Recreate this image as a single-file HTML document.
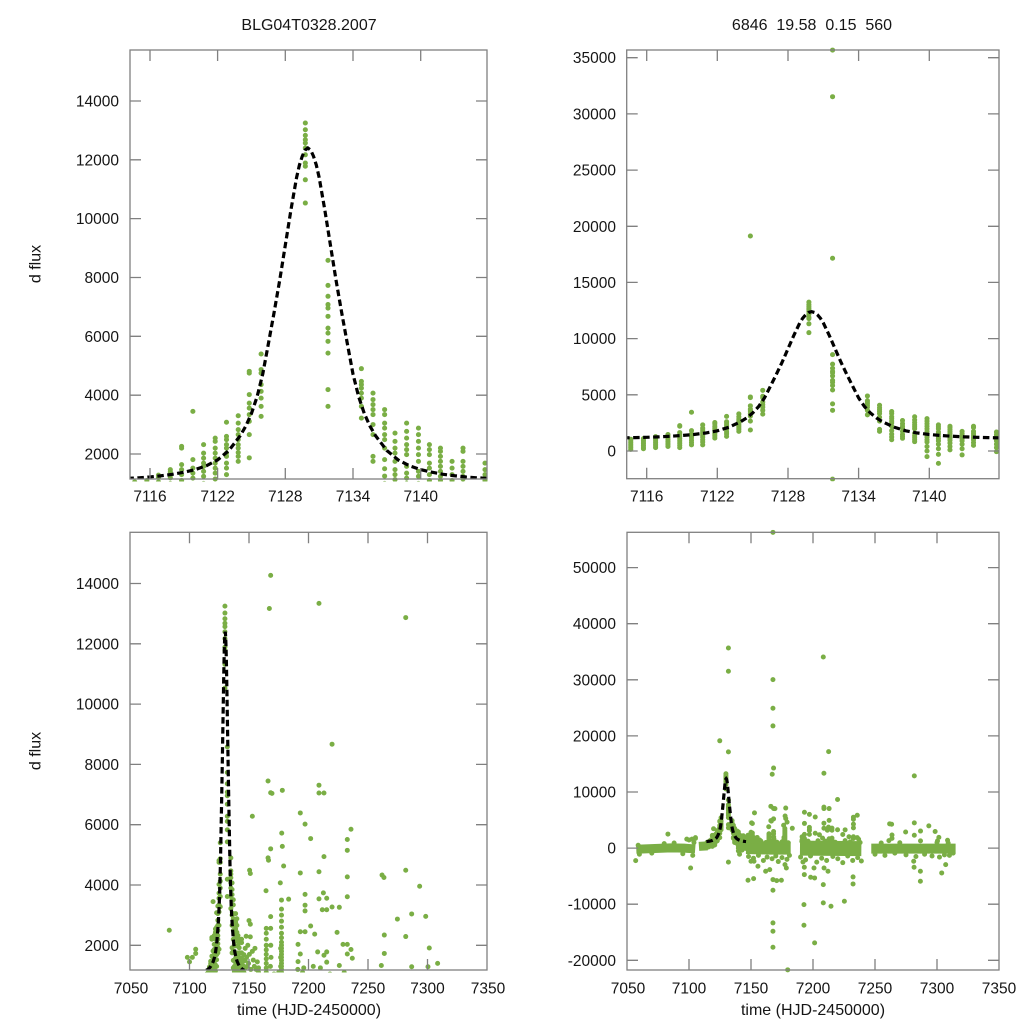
<!DOCTYPE html>
<html>
<head>
<meta charset="utf-8">
<style>
html,body{margin:0;padding:0;background:#fff;width:1024px;height:1024px;overflow:hidden;}
svg{display:block;}
text{font-family:"Liberation Sans",Arial,sans-serif;fill:#151515;}
.tk{font-size:15.5px;}
.ttl{font-size:16px;}
.dots{fill:none;stroke:#7aae45;stroke-width:5;stroke-linecap:round;}
.band{fill:none;stroke:#7aae45;stroke-linecap:butt;}
.crv{fill:none;stroke:#000;stroke-width:3.2;stroke-dasharray:6.5 3.5;}
.fr{fill:none;stroke:#808080;stroke-width:1.3;}
</style>
</head>
<body>
<svg width="1024" height="1024" viewBox="0 0 1024 1024" xmlns="http://www.w3.org/2000/svg">
<defs>
<clipPath id="cTL"><rect x="130" y="50" width="357" height="429"/></clipPath>
<clipPath id="cTR"><rect x="626.7" y="50" width="372.3" height="428.7"/></clipPath>
<clipPath id="cBL"><rect x="130" y="532.3" width="357" height="437.7"/></clipPath>
<clipPath id="cBR"><rect x="627" y="532.3" width="372" height="437.7"/></clipPath>
<clipPath id="dTL"><rect x="127.5" y="47.5" width="362" height="434"/></clipPath>
<clipPath id="dTR"><rect x="624.2" y="47.5" width="377.3" height="433.7"/></clipPath>
<clipPath id="dBL"><rect x="127.5" y="529.8" width="362" height="442.7"/></clipPath>
<clipPath id="dBR"><rect x="624.5" y="529.8" width="377" height="442.7"/></clipPath>
<path id="EV" class="dots" vector-effect="non-scaling-stroke" d="
M114.64 .15h.01M114.64 .3h.01M114.64 .45h.01M114.64 .6h.01M114.64 .75h.01M114.64 .9h.01M114.64 1.05h.01
M115.72 .2h.01M115.72 .35h.01M115.72 .5h.01M115.72 .65h.01M115.72 .8h.01M115.72 .95h.01M115.72 1.1h.01
M116.75 .3h.01M116.75 .45h.01M116.75 .6h.01M116.75 .75h.01M116.75 .9h.01M116.75 1.05h.01M116.75 1.2h.01M116.75 1.28h.01
M117.8 .4h.01M117.8 .55h.01M117.8 .7h.01M117.8 .85h.01M117.8 1h.01M117.8 1.19h.01M117.8 1.28h.01M117.8 1.39h.01M117.8 1.47h.01
M118.8 .3h.01M118.8 .5h.01M118.8 .7h.01M118.8 .9h.01M118.8 1.1h.01M118.8 1.3h.01M118.8 1.47h.01M118.8 1.64h.01M118.8 2.2h.01M118.8 2.26h.01
M119.8 .55h.01M119.8 .75h.01M119.8 .95h.01M119.8 1.18h.01M119.8 1.35h.01M119.8 1.52h.01M119.8 1.81h.01M119.8 3.45h.01
M120.75 .55h.01M120.75 .8h.01M120.75 1h.01M120.75 1.24h.01M120.75 1.41h.01M120.75 1.58h.01M120.75 1.69h.01M120.75 1.86h.01M120.75 2.03h.01M120.75 2.32h.01
M121.78 1.15h.01M121.78 1.35h.01M121.78 1.52h.01M121.78 1.69h.01M121.78 1.86h.01M121.78 2.03h.01M121.78 2.2h.01M121.78 2.43h.01M121.78 2.54h.01
M122.78 1.3h.01M122.78 1.52h.01M122.78 1.69h.01M122.78 1.92h.01M122.78 2.03h.01M122.78 2.2h.01M122.78 2.32h.01M122.78 2.49h.01M122.78 2.6h.01M122.78 3.08h.01
M123.82 1.75h.01M123.82 1.92h.01M123.82 2.05h.01M123.82 2.2h.01M123.82 2.32h.01M123.82 2.49h.01M123.82 2.66h.01M123.82 2.83h.01M123.82 3.05h.01M123.82 3.3h.01
M124.8 1.87h.01M124.8 2.66h.01M124.8 3.11h.01M124.8 3.34h.01M124.8 3.56h.01M124.8 3.73h.01M124.8 4.02h.01M124.8 4.75h.01M124.8 4.81h.01M124.8 19.13h.01
M125.85 3.28h.01M125.85 3.62h.01M125.85 3.9h.01M125.85 4.13h.01M125.85 4.36h.01M125.85 4.75h.01M125.85 4.87h.01M125.85 5.4h.01
M129.77 10.53h.01M129.77 11.32h.01M129.77 11.78h.01M129.77 11.89h.01M129.77 12.17h.01M129.77 12.4h.01M129.77 12.57h.01M129.77 12.68h.01M129.77 12.83h.01M129.77 13.02h.01M129.77 13.25h.01
M131.78 -2.5h.01M131.78 3.62h.01M131.78 4.19h.01M131.78 5.43h.01M131.78 5.83h.01M131.78 6.11h.01M131.78 6.28h.01M131.78 6.68h.01M131.78 6.96h.01M131.78 7.08h.01M131.78 7.36h.01M131.78 7.73h.01M131.78 8.58h.01M131.78 17.15h.01M131.78 31.53h.01M131.78 35.68h.01
M134.74 3.22h.01M134.74 3.62h.01M134.74 3.9h.01M134.74 4.07h.01M134.74 4.24h.01M134.74 4.36h.01M134.74 4.47h.01M134.74 4.9h.01
M135.77 1.75h.01M135.77 1.92h.01M135.77 2.66h.01M135.77 3h.01M135.77 3.34h.01M135.77 3.51h.01M135.77 3.68h.01M135.77 3.85h.01M135.77 4.07h.01
M136.8 1h.01M136.8 1.25h.01M136.8 1.5h.01M136.8 1.81h.01M136.8 2.2h.01M136.8 2.49h.01M136.8 2.66h.01M136.8 2.88h.01M136.8 3.05h.01M136.8 3.34h.01M136.8 3.51h.01
M137.72 1.13h.01M137.72 1.3h.01M137.72 1.47h.01M137.72 1.75h.01M137.72 2.03h.01M137.72 2.2h.01M137.72 2.43h.01M137.72 2.71h.01
M138.75 .83h.01M138.75 1h.01M138.75 1.18h.01M138.75 1.35h.01M138.75 1.58h.01M138.75 1.98h.01M138.75 2.15h.01M138.75 2.32h.01M138.75 2.54h.01M138.75 2.77h.01M138.75 3.05h.01
M139.8 -.5h.01M139.8 0h.01M139.8 .4h.01M139.8 .8h.01M139.8 1h.01M139.8 1.24h.01M139.8 1.41h.01M139.8 1.75h.01M139.8 1.98h.01M139.8 2.2h.01M139.8 2.43h.01M139.8 2.66h.01M139.8 2.88h.01
M140.77 -1.1h.01M140.77 -.3h.01M140.77 .2h.01M140.77 .6h.01M140.77 .9h.01M140.77 1.1h.01M140.77 1.3h.01M140.77 1.52h.01M140.77 1.69h.01M140.77 1.98h.01M140.77 2.15h.01M140.77 2.32h.01
M141.75 .1h.01M141.75 .4h.01M141.75 .7h.01M141.75 .95h.01M141.75 1.1h.01M141.75 1.24h.01M141.75 1.41h.01M141.75 1.58h.01M141.75 1.75h.01M141.75 1.92h.01M141.75 2.09h.01M141.75 2.2h.01
M142.78 -.35h.01M142.78 .2h.01M142.78 .6h.01M142.78 .9h.01M142.78 1.1h.01M142.78 1.3h.01M142.78 1.52h.01M142.78 1.75h.01
M143.75 .5h.01M143.75 .75h.01M143.75 1h.01M143.75 1.15h.01M143.75 1.24h.01M143.75 1.41h.01M143.75 1.58h.01M143.75 1.75h.01M143.75 2.09h.01M143.75 2.2h.01
M145.7 -.06h.01M145.7 .3h.01M145.7 .6h.01M145.7 .9h.01M145.7 1.1h.01M145.7 1.3h.01M145.7 1.47h.01M145.7 1.69h.01"/>
<path id="SE" class="dots" vector-effect="non-scaling-stroke" d="
M57 -2.23h.01M83 2.5h.01M98.2 1.6h.01M100 1.45h.01M102.4 1.6h.01M105.2 1.87h.01M105.2 1.73h.01M101.3 -3.54h.01
M146.8 1.9h.01M146.8 1.5h.01M147 1.25h.01M147.6 2.3h.01M148 1.6h.01M148.5 1.3h.01M149 2h.01M149.6 1.4h.01M150 2.82h.01M150.5 4.49h.01M150.3 1.7h.01M151.1 2.7h.01M151.1 2.28h.01M151.1 4.38h.01M151.5 1.2h.01M152.8 6.28h.01M153.6 1.51h.01M152.8 1.8h.01M154.5 1.3h.01M155 1.9h.01M156 1.2h.01M157 1.45h.01M158 1.25h.01
M147.6 -5.73h.01M150 -2.35h.01M152.4 -2.35h.01M152.1 -5.44h.01M155.6 -3.24h.01M161.8 -4.13h.01M165.1 -3.83h.01
M166 7.45h.01M164.5 1.1h.01M164.5 1.25h.01M164.5 1.4h.01M164.5 1.55h.01M164.5 1.7h.01M164.5 1.85h.01M164.5 2h.01M164.5 2.2h.01M164.5 2.4h.01M164.5 2.56h.01M164.3 3.81h.01M166 4.9h.01M166.4 4.82h.01
M167.1 13.17h.01M168.2 14.27h.01M167.7 56.3h.01M167.7 30.03h.01M167.7 24.93h.01M167.7 21.78h.01M167.7 -5.61h.01M167.7 -7.52h.01M167.7 -13.34h.01M167.7 -14.82h.01M167.7 -17.68h.01
M168.2 7.06h.01M169.3 7.04h.01M168.2 5.2h.01M168.2 2.95h.01M168.2 2.56h.01M168 1.3h.01M168.5 1.6h.01M168.3 2h.01M170.7 -5.79h.01M174.5 -5.73h.01
M177.3 1.1h.01M177.3 1.2h.01M177.3 1.3h.01M177.3 1.4h.01M177.3 1.5h.01M177.3 1.6h.01M177.3 1.7h.01M177.3 1.8h.01M177.3 1.9h.01M177.3 2h.01M177.3 2.1h.01M177.3 2.25h.01M177.3 2.4h.01M177.3 2.6h.01M177.3 2.8h.01M177.3 3h.01M177.3 3.2h.01M177.3 3.5h.01
M176.6 1.3h.01M176.6 1.6h.01M176.6 1.9h.01M176.3 4.07h.01M177.5 5.72h.01M178 5.28h.01M178 7.14h.01M179.1 4.63h.01M177.4 -2.94h.01M178.5 -3.54h.01M179.6 -21.7h.01M183.3 3.53h.01
M191.2 2.03h.01M191.2 1.46h.01M193.1 1.71h.01M193.1 2.45h.01M193.1 4.4h.01M193.1 6.39h.01M197.1 6.02h.01M197.1 3.69h.01M197.1 3.33h.01M197.1 3.14h.01M197.1 2.45h.01M201.8 2.64h.01M201.8 5.54h.01M205.2 2.37h.01M207.7 1.78h.01
M208.8 13.34h.01M208.8 7.31h.01M208.8 7.05h.01M208.8 4.44h.01M208.8 3.54h.01M211.6 3.18h.01M212.5 3.74h.01M213 7.05h.01M213 4.94h.01M213 1.67h.01M215.3 3.56h.01M215.3 3.18h.01M215.3 1.78h.01M215.3 1.44h.01
M219.8 8.67h.01M219.8 3.27h.01M224 2.43h.01M225.9 3.26h.01M225.9 1.33h.01M229 2.03h.01M232.6 5.51h.01M232.6 5.15h.01M232.6 4.27h.01M232.6 3.61h.01M232.6 2.03h.01M232.6 1.71h.01M235.7 5.85h.01M235.7 1.86h.01M236.8 1.57h.01
M208.3 34.07h.01M212.6 17.2h.01M191 1.2h.01M196 1.25h.01M204 1.3h.01M210 1.25h.01
M191.9 -2.47h.01M193 -3.42h.01M193 -4.72h.01M198.1 -5.2h.01M201.3 -5.32h.01M200.8 -3.54h.01M208.9 -3.54h.01M212.1 -4.13h.01M208.3 -6.51h.01M208.3 -9.77h.01M214.5 -10.37h.01M225.3 -9.48h.01M232.3 -5.14h.01M232.3 -6.39h.01M192.7 -10.07h.01M192.7 -13.76h.01M201.3 -16.9h.01
M261.2 1.33h.01M261.8 4.33h.01M263.4 4.25h.01M263.7 2.34h.01M263.7 1.73h.01M274.7 2.87h.01M281.7 12.87h.01M281.7 4.49h.01M281.7 2.29h.01M286.7 3.04h.01M286.7 1.29h.01M293.4 3.96h.01M298.5 2.96h.01M300.4 1.29h.01M301.5 1.91h.01M308.5 1.4h.01
M281.2 -2.35h.01M281.5 -3.42h.01M286.6 -4.13h.01M286.6 -5.91h.01M303.8 -4.43h.01M307 -2.94h.01
M148 -1.5h.01M152 -1.8h.01M156 -1.3h.01M160 -2.2h.01M163 -1.6h.01M167 -1.9h.01M170 -1.4h.01M172 -2.4h.01M175 -1.7h.01M179 -2h.01M181 -1.3h.01M158 1.1h.01M162 1h.01M171 1.05h.01M175 1.1h.01M180 .95h.01
M190 -1.6h.01M194 -2.1h.01M198 -1.4h.01M203 -2.5h.01M207 -1.8h.01M211 -2.2h.01M216 -1.5h.01M220 -1.9h.01M224 -2.6h.01M228 -1.4h.01M232 -2.2h.01M236 -1.7h.01M239 -2.3h.01M195 1.1h.01M205 1h.01M218 1.05h.01M230 1.1h.01M238 1h.01
M250 -1.1h.01M258 -1.3h.01M266 -.9h.01M275 -1.2h.01M283 -1.5h.01M290 -1.1h.01M296 -1.4h.01M302 -1.6h.01M306 -1.2h.01M310 -1.3h.01M313 -.9h.01M255 .9h.01M270 .95h.01M300 1h.01M309 .9h.01
M60 -1.1h.01M70 -.9h.01M80 .8h.01M88 .9h.01M95 -1h.01M103 -1.3h.01M104 1h.01M59 .5h.01"/>
<path id="BD" class="dots" vector-effect="non-scaling-stroke" d="
M114.64 1.05h.01M115.72 1.1h.01
M116.75 1.05h.01M116.75 1.2h.01M116.75 1.28h.01
M117.8 1h.01M117.8 1.19h.01M117.8 1.28h.01M117.8 1.39h.01M117.8 1.47h.01
M118.8 1.1h.01M118.8 1.3h.01M118.8 1.47h.01M118.8 1.64h.01M118.8 2.2h.01M118.8 2.26h.01
M119.8 1.18h.01M119.8 1.35h.01M119.8 1.52h.01M119.8 1.81h.01M119.8 3.45h.01
M120.75 1h.01M120.75 1.24h.01M120.75 1.41h.01M120.75 1.58h.01M120.75 1.69h.01M120.75 1.86h.01M120.75 2.03h.01M120.75 2.32h.01
M121.78 1.15h.01M121.78 1.35h.01M121.78 1.52h.01M121.78 1.69h.01M121.78 1.86h.01M121.78 2.03h.01M121.78 2.2h.01M121.78 2.43h.01M121.78 2.54h.01
M122.78 1.3h.01M122.78 1.52h.01M122.78 1.69h.01M122.78 1.92h.01M122.78 2.03h.01M122.78 2.2h.01M122.78 2.32h.01M122.78 2.49h.01M122.78 2.6h.01M122.78 3.08h.01
M123.82 1.75h.01M123.82 1.92h.01M123.82 2.05h.01M123.82 2.2h.01M123.82 2.32h.01M123.82 2.49h.01M123.82 2.66h.01M123.82 2.83h.01M123.82 3.05h.01M123.82 3.3h.01
M124.8 1.87h.01M124.8 2.66h.01M124.8 3.11h.01M124.8 3.34h.01M124.8 3.56h.01M124.8 3.73h.01M124.8 4.02h.01M124.8 4.75h.01M124.8 4.81h.01
M125.85 3.28h.01M125.85 3.62h.01M125.85 3.9h.01M125.85 4.13h.01M125.85 4.36h.01M125.85 4.75h.01M125.85 4.87h.01M125.85 5.4h.01
M129.77 10.53h.01M129.77 11.32h.01M129.77 11.78h.01M129.77 11.89h.01M129.77 12.17h.01M129.77 12.4h.01M129.77 12.57h.01M129.77 12.68h.01M129.77 12.83h.01M129.77 13.02h.01M129.77 13.25h.01
M131.78 3.62h.01M131.78 4.19h.01M131.78 5.43h.01M131.78 5.83h.01M131.78 6.11h.01M131.78 6.28h.01M131.78 6.68h.01M131.78 6.96h.01M131.78 7.08h.01M131.78 7.36h.01M131.78 7.73h.01M131.78 8.58h.01
M134.74 3.22h.01M134.74 3.62h.01M134.74 3.9h.01M134.74 4.07h.01M134.74 4.24h.01M134.74 4.36h.01M134.74 4.47h.01M134.74 4.9h.01
M135.77 1.75h.01M135.77 1.92h.01M135.77 2.66h.01M135.77 3h.01M135.77 3.34h.01M135.77 3.51h.01M135.77 3.68h.01M135.77 3.85h.01M135.77 4.07h.01
M136.8 1h.01M136.8 1.25h.01M136.8 1.5h.01M136.8 1.81h.01M136.8 2.2h.01M136.8 2.49h.01M136.8 2.66h.01M136.8 2.88h.01M136.8 3.05h.01M136.8 3.34h.01M136.8 3.51h.01
M137.72 1.13h.01M137.72 1.3h.01M137.72 1.47h.01M137.72 1.75h.01M137.72 2.03h.01M137.72 2.2h.01M137.72 2.43h.01M137.72 2.71h.01
M138.75 1h.01M138.75 1.18h.01M138.75 1.35h.01M138.75 1.58h.01M138.75 1.98h.01M138.75 2.15h.01M138.75 2.32h.01M138.75 2.54h.01M138.75 2.77h.01M138.75 3.05h.01
M139.8 1h.01M139.8 1.24h.01M139.8 1.41h.01M139.8 1.75h.01M139.8 1.98h.01M139.8 2.2h.01M139.8 2.43h.01M139.8 2.66h.01M139.8 2.88h.01
M140.77 1.1h.01M140.77 1.3h.01M140.77 1.52h.01M140.77 1.69h.01M140.77 1.98h.01M140.77 2.15h.01M140.77 2.32h.01
M141.75 1.1h.01M141.75 1.24h.01M141.75 1.41h.01M141.75 1.58h.01M141.75 1.75h.01M141.75 1.92h.01M141.75 2.09h.01M141.75 2.2h.01
M142.78 1.1h.01M142.78 1.3h.01M142.78 1.52h.01M142.78 1.75h.01
M143.75 1h.01M143.75 1.15h.01M143.75 1.24h.01M143.75 1.41h.01M143.75 1.58h.01M143.75 1.75h.01M143.75 2.09h.01M143.75 2.2h.01
M145.7 1.1h.01M145.7 1.3h.01M145.7 1.47h.01M145.7 1.69h.01
M83 2.5h.01M98.2 1.6h.01M100 1.45h.01M102.4 1.6h.01M105.2 1.87h.01M105.2 1.73h.01
M146.8 1.9h.01M146.8 1.5h.01M147 1.25h.01M147.6 2.3h.01M148 1.6h.01M148.5 1.3h.01M149 2h.01M149.6 1.4h.01M150 2.82h.01M150.5 4.49h.01M150.3 1.7h.01M151.1 2.7h.01M151.1 2.28h.01M151.1 4.38h.01M151.5 1.2h.01M152.8 6.28h.01M153.6 1.51h.01M152.8 1.8h.01M154.5 1.3h.01M155 1.9h.01M156 1.2h.01M157 1.45h.01M158 1.25h.01
M166 7.45h.01M164.5 1.1h.01M164.5 1.25h.01M164.5 1.4h.01M164.5 1.55h.01M164.5 1.7h.01M164.5 1.85h.01M164.5 2h.01M164.5 2.2h.01M164.5 2.4h.01M164.5 2.56h.01M164.3 3.81h.01M166 4.9h.01M166.4 4.82h.01
M167.1 13.17h.01M168.2 14.27h.01
M168.2 7.06h.01M169.3 7.04h.01M168.2 5.2h.01M168.2 2.95h.01M168.2 2.56h.01M168 1.3h.01M168.5 1.6h.01M168.3 2h.01
M177.3 1.1h.01M177.3 1.2h.01M177.3 1.3h.01M177.3 1.4h.01M177.3 1.5h.01M177.3 1.6h.01M177.3 1.7h.01M177.3 1.8h.01M177.3 1.9h.01M177.3 2h.01M177.3 2.1h.01M177.3 2.25h.01M177.3 2.4h.01M177.3 2.6h.01M177.3 2.8h.01M177.3 3h.01M177.3 3.2h.01M177.3 3.5h.01
M176.6 1.3h.01M176.6 1.6h.01M176.6 1.9h.01M176.3 4.07h.01M177.5 5.72h.01M178 5.28h.01M178 7.14h.01M179.1 4.63h.01M183.3 3.53h.01
M191.2 2.03h.01M191.2 1.46h.01M193.1 1.71h.01M193.1 2.45h.01M193.1 4.4h.01M193.1 6.39h.01M197.1 6.02h.01M197.1 3.69h.01M197.1 3.33h.01M197.1 3.14h.01M197.1 2.45h.01M201.8 2.64h.01M201.8 5.54h.01M205.2 2.37h.01M207.7 1.78h.01
M208.8 13.34h.01M208.8 7.31h.01M208.8 7.05h.01M208.8 4.44h.01M208.8 3.54h.01M211.6 3.18h.01M212.5 3.74h.01M213 7.05h.01M213 4.94h.01M213 1.67h.01M215.3 3.56h.01M215.3 3.18h.01M215.3 1.78h.01M215.3 1.44h.01
M219.8 8.67h.01M219.8 3.27h.01M224 2.43h.01M225.9 3.26h.01M225.9 1.33h.01M229 2.03h.01M232.6 5.51h.01M232.6 5.15h.01M232.6 4.27h.01M232.6 3.61h.01M232.6 2.03h.01M232.6 1.71h.01M235.7 5.85h.01M235.7 1.86h.01M236.8 1.57h.01
M191 1.2h.01M196 1.25h.01M204 1.3h.01M210 1.25h.01
M261.2 1.33h.01M261.8 4.33h.01M263.4 4.25h.01M263.7 2.34h.01M263.7 1.73h.01M274.7 2.87h.01M281.7 12.87h.01M281.7 4.49h.01M281.7 2.29h.01M286.7 3.04h.01M286.7 1.29h.01M293.4 3.96h.01M298.5 2.96h.01M300.4 1.29h.01M301.5 1.91h.01M308.5 1.4h.01
M158 1.1h.01M162 1h.01M171 1.05h.01M175 1.1h.01M195 1.1h.01M205 1h.01M218 1.05h.01M230 1.1h.01M238 1h.01M300 1h.01M104 1h.01"/>
<path id="CV" class="crv" vector-effect="non-scaling-stroke" d="M114 1.17L115 1.19L116 1.22L117 1.26L118 1.31L119 1.38L120 1.47L121 1.6L122 1.8L123 2.12L124 2.62L124.5 2.95L125 3.38L125.5 3.95L126 4.72L126.5 5.75L127 6.8L127.5 7.9L128 9.1L128.5 10.3L129 11.4L129.25 11.82L129.5 12.12L129.75 12.33L130 12.4L130.25 12.33L130.5 12.12L130.75 11.82L131 11.4L131.5 10.3L132 9.1L132.5 7.9L133 6.8L133.5 5.75L134 4.72L134.5 3.95L135 3.38L135.5 2.95L136 2.62L137 2.12L138 1.8L139 1.6L140 1.47L141 1.38L142 1.31L143 1.26L144 1.22L145 1.19L146 1.17"/>
</defs>

<!-- Top-left data -->
<g clip-path="url(#dTL)">
<g transform="matrix(11.279 0 0 -29.42 -1158.4 512.84)">
<use href="#EV"/>
</g>
</g>
<g clip-path="url(#cTL)">
<g transform="matrix(11.279 0 0 -29.42 -1158.4 512.84)">
<use href="#CV"/>
</g>
</g>
<!-- Top-right data -->
<g clip-path="url(#dTR)">
<g transform="matrix(11.775 0 0 -11.237 -719.2 451)">
<use href="#EV"/>
</g>
</g>
<g clip-path="url(#cTR)">
<g transform="matrix(11.775 0 0 -11.237 -719.2 451)">
<use href="#CV"/>
</g>
</g>
<!-- Bottom-left data -->
<g clip-path="url(#dBL)">
<g transform="matrix(1.19 0 0 -30.15 70.5 1005.6)">
<use href="#BD"/>
</g>
</g>
<g clip-path="url(#cBL)">
<g transform="matrix(1.19 0 0 -30.15 70.5 1005.6)">
<use href="#CV"/>
</g>
</g>
<!-- Bottom-right data -->
<g clip-path="url(#dBR)">
<g transform="matrix(1.24 0 0 -5.609 565 848.1)">
<path class="band" vector-effect="non-scaling-stroke" stroke-width="9" d="M57.5 -0.2L70 -0.1L85 0.05L96 0L105 -0.15"/>
<path class="band" vector-effect="non-scaling-stroke" stroke-width="9" d="M108 0.3L115 0.4"/>
<path class="band" vector-effect="non-scaling-stroke" stroke-width="13" d="M146 0.1L165 0L182 0"/>
<path class="band" vector-effect="non-scaling-stroke" stroke-width="15" d="M189.5 0L239 -0.1"/>
<path class="band" vector-effect="non-scaling-stroke" stroke-width="10" d="M247 -0.1L315 -0.1"/>
<use href="#EV"/><use href="#SE"/>
</g>
</g>
<g clip-path="url(#cBR)">
<g transform="matrix(1.24 0 0 -5.609 565 848.1)">
<use href="#CV"/>
</g>
</g>

<!-- Frames and ticks -->
<g class="fr">
<rect x="130" y="50" width="357" height="429"/>
<path d="M150 479v-11M217.6 479v-11M285.3 479v-11M353 479v-11M420.7 479v-11M150 50v11M217.6 50v11M285.3 50v11M353 50v11M420.7 50v11
M130 101h11M130 159.8h11M130 218.6h11M130 277.5h11M130 336.3h11M130 395.2h11M130 454h11
M487 101h-11M487 159.8h-11M487 218.6h-11M487 277.5h-11M487 336.3h-11M487 395.2h-11M487 454h-11"/>
<rect x="626.7" y="50" width="372.3" height="428.7"/>
<path d="M646.7 478.7v-11M717.3 478.7v-11M788 478.7v-11M858.6 478.7v-11M929.3 478.7v-11M646.7 50v11M717.3 50v11M788 50v11M858.6 50v11M929.3 50v11
M626.7 451h11M626.7 394.8h11M626.7 338.6h11M626.7 282.4h11M626.7 226.3h11M626.7 170.1h11M626.7 113.9h11M626.7 57.7h11
M999 451h-11M999 394.8h-11M999 338.6h-11M999 282.4h-11M999 226.3h-11M999 170.1h-11M999 113.9h-11M999 57.7h-11"/>
<rect x="130" y="532.3" width="357" height="437.7"/>
<path d="M189.5 970v-11M249 970v-11M308.5 970v-11M368 970v-11M427.5 970v-11M189.5 532.3v11M249 532.3v11M308.5 532.3v11M368 532.3v11M427.5 532.3v11
M130 583.5h11M130 643.8h11M130 704.1h11M130 764.4h11M130 824.7h11M130 885h11M130 945.3h11
M487 583.5h-11M487 643.8h-11M487 704.1h-11M487 764.4h-11M487 824.7h-11M487 885h-11M487 945.3h-11"/>
<rect x="627" y="532.3" width="372" height="437.7"/>
<path d="M689 970v-11M751 970v-11M813 970v-11M875 970v-11M937 970v-11M689 532.3v11M751 532.3v11M813 532.3v11M875 532.3v11M937 532.3v11
M627 960.3h11M627 904.2h11M627 848.1h11M627 792h11M627 735.9h11M627 679.8h11M627 623.7h11M627 567.6h11
M999 960.3h-11M999 904.2h-11M999 848.1h-11M999 792h-11M999 735.9h-11M999 679.8h-11M999 623.7h-11M999 567.6h-11"/>
</g>

<!-- Titles -->
<text class="ttl" x="309" y="30" text-anchor="middle">BLG04T0328.2007</text>
<text class="ttl" x="812" y="30" text-anchor="middle" xml:space="preserve" style="white-space:pre">6846  19.58  0.15  560</text>

<!-- Y labels -->
<text class="ttl" transform="translate(40.5 264) rotate(-90)" text-anchor="middle">d flux</text>
<text class="ttl" transform="translate(40.5 751) rotate(-90)" text-anchor="middle">d flux</text>

<!-- X axis titles -->
<text class="ttl" x="309" y="1015" text-anchor="middle">time (HJD-2450000)</text>
<text class="ttl" x="813" y="1015" text-anchor="middle">time (HJD-2450000)</text>

<!-- TL tick labels -->
<g class="tk" text-anchor="end">
<text x="119" y="106.5">14000</text>
<text x="119" y="165.3">12000</text>
<text x="119" y="224.1">10000</text>
<text x="119" y="283">8000</text>
<text x="119" y="341.8">6000</text>
<text x="119" y="400.7">4000</text>
<text x="119" y="459.5">2000</text>
</g>
<g class="tk" text-anchor="middle">
<text x="150" y="501.5">7116</text>
<text x="217.6" y="501.5">7122</text>
<text x="285.3" y="501.5">7128</text>
<text x="353" y="501.5">7134</text>
<text x="420.7" y="501.5">7140</text>
</g>
<!-- TR tick labels -->
<g class="tk" text-anchor="end">
<text x="616" y="456.5">0</text>
<text x="616" y="400.3">5000</text>
<text x="616" y="344.1">10000</text>
<text x="616" y="287.9">15000</text>
<text x="616" y="231.8">20000</text>
<text x="616" y="175.6">25000</text>
<text x="616" y="119.4">30000</text>
<text x="616" y="63.2">35000</text>
</g>
<g class="tk" text-anchor="middle">
<text x="646.7" y="501.5">7116</text>
<text x="717.3" y="501.5">7122</text>
<text x="788" y="501.5">7128</text>
<text x="858.6" y="501.5">7134</text>
<text x="929.3" y="501.5">7140</text>
</g>
<!-- BL tick labels -->
<g class="tk" text-anchor="end">
<text x="119" y="589">14000</text>
<text x="119" y="649.3">12000</text>
<text x="119" y="709.6">10000</text>
<text x="119" y="769.9">8000</text>
<text x="119" y="830.2">6000</text>
<text x="119" y="890.5">4000</text>
<text x="119" y="950.8">2000</text>
</g>
<g class="tk" text-anchor="middle">
<text x="131" y="993.5">7050</text>
<text x="189.5" y="993.5">7100</text>
<text x="249" y="993.5">7150</text>
<text x="308.5" y="993.5">7200</text>
<text x="368" y="993.5">7250</text>
<text x="427.5" y="993.5">7300</text>
<text x="488" y="993.5">7350</text>
</g>
<!-- BR tick labels -->
<g class="tk" text-anchor="end">
<text x="616" y="965.8">-20000</text>
<text x="616" y="909.7">-10000</text>
<text x="616" y="853.6">0</text>
<text x="616" y="797.5">10000</text>
<text x="616" y="741.4">20000</text>
<text x="616" y="685.3">30000</text>
<text x="616" y="629.2">40000</text>
<text x="616" y="573.1">50000</text>
</g>
<g class="tk" text-anchor="middle">
<text x="628" y="993.5">7050</text>
<text x="689" y="993.5">7100</text>
<text x="751" y="993.5">7150</text>
<text x="813" y="993.5">7200</text>
<text x="875" y="993.5">7250</text>
<text x="937" y="993.5">7300</text>
<text x="999" y="993.5">7350</text>
</g>
</svg>
</body>
</html>
